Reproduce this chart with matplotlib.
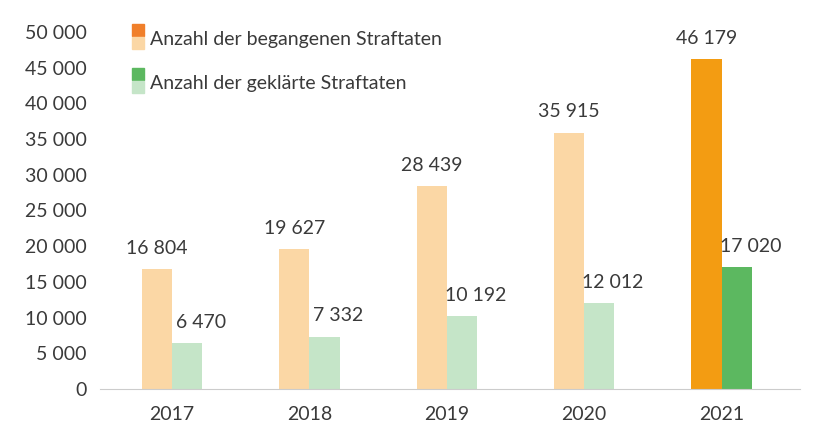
import matplotlib.pyplot as plt
from matplotlib.patches import Rectangle
import numpy as np

years = ["2017", "2018", "2019", "2020", "2021"]
begangen = [16804, 19627, 28439, 35915, 46179]
geklaert = [6470, 7332, 10192, 12012, 17020]

plt.rcParams["font.family"] = ["Lato", "DejaVu Sans"]
txt = "#3a3a3a"

fig = plt.figure(figsize=(8.23, 4.45), dpi=100)
ax = fig.add_axes([0.122, 0.126, 0.85, 0.802])

x = np.arange(len(years))
w = 0.22
light_o, dark_o = "#fbd7a5", "#f39c12"
light_g, dark_g = "#c5e5c8", "#5cb860"
col_o = [light_o] * 4 + [dark_o]
col_g = [light_g] * 4 + [dark_g]
ax.bar(x - w / 2, begangen, w, color=col_o)
ax.bar(x + w / 2, geklaert, w, color=col_g)

fmt = lambda v: f"{v:,}".replace(",", " ")
for xi, v in zip(x, begangen):
    ax.text(xi - w / 2, v + 1700, fmt(v), ha="center", va="bottom", fontsize=14, color=txt)
for xi, v in zip(x, geklaert):
    ax.text(xi + w / 2 + 0.1, v + 1700, fmt(v), ha="center", va="bottom", fontsize=14, color=txt)

ax.set_ylim(0, 50000)
ax.set_xlim(-0.52, 4.57)
ax.set_yticks(range(0, 50001, 5000))
ax.set_yticklabels([fmt(v) for v in range(0, 50001, 5000)])
ax.set_xticks(x)
ax.set_xticklabels(years)
ax.tick_params(length=0, labelsize=14, colors=txt, pad=10)
ax.tick_params(axis="x", pad=12)
for s in ["top", "right", "left"]:
    ax.spines[s].set_visible(False)
ax.spines["bottom"].set_color("#cccccc")

# legend with stacked dark/light swatches
items = [("Anzahl der begangenen Straftaten", "#f07f2a", light_o, 40),
         ("Anzahl der geklärte Straftaten", dark_g, light_g, 84)]
for label, top, bot, ypx in items:
    s = 12 / 823
    h = 12 / 445
    fig.patches.append(Rectangle((132 / 823, 1 - (ypx - 4) / 445), s, h, color=top, transform=fig.transFigure))
    fig.patches.append(Rectangle((132 / 823, 1 - (ypx + 9) / 445), s, h, color=bot, transform=fig.transFigure))
    fig.text(150 / 823, 1 - ypx / 445, label, fontsize=14, color=txt, va="center")

fig.savefig("out.png", dpi=100)
